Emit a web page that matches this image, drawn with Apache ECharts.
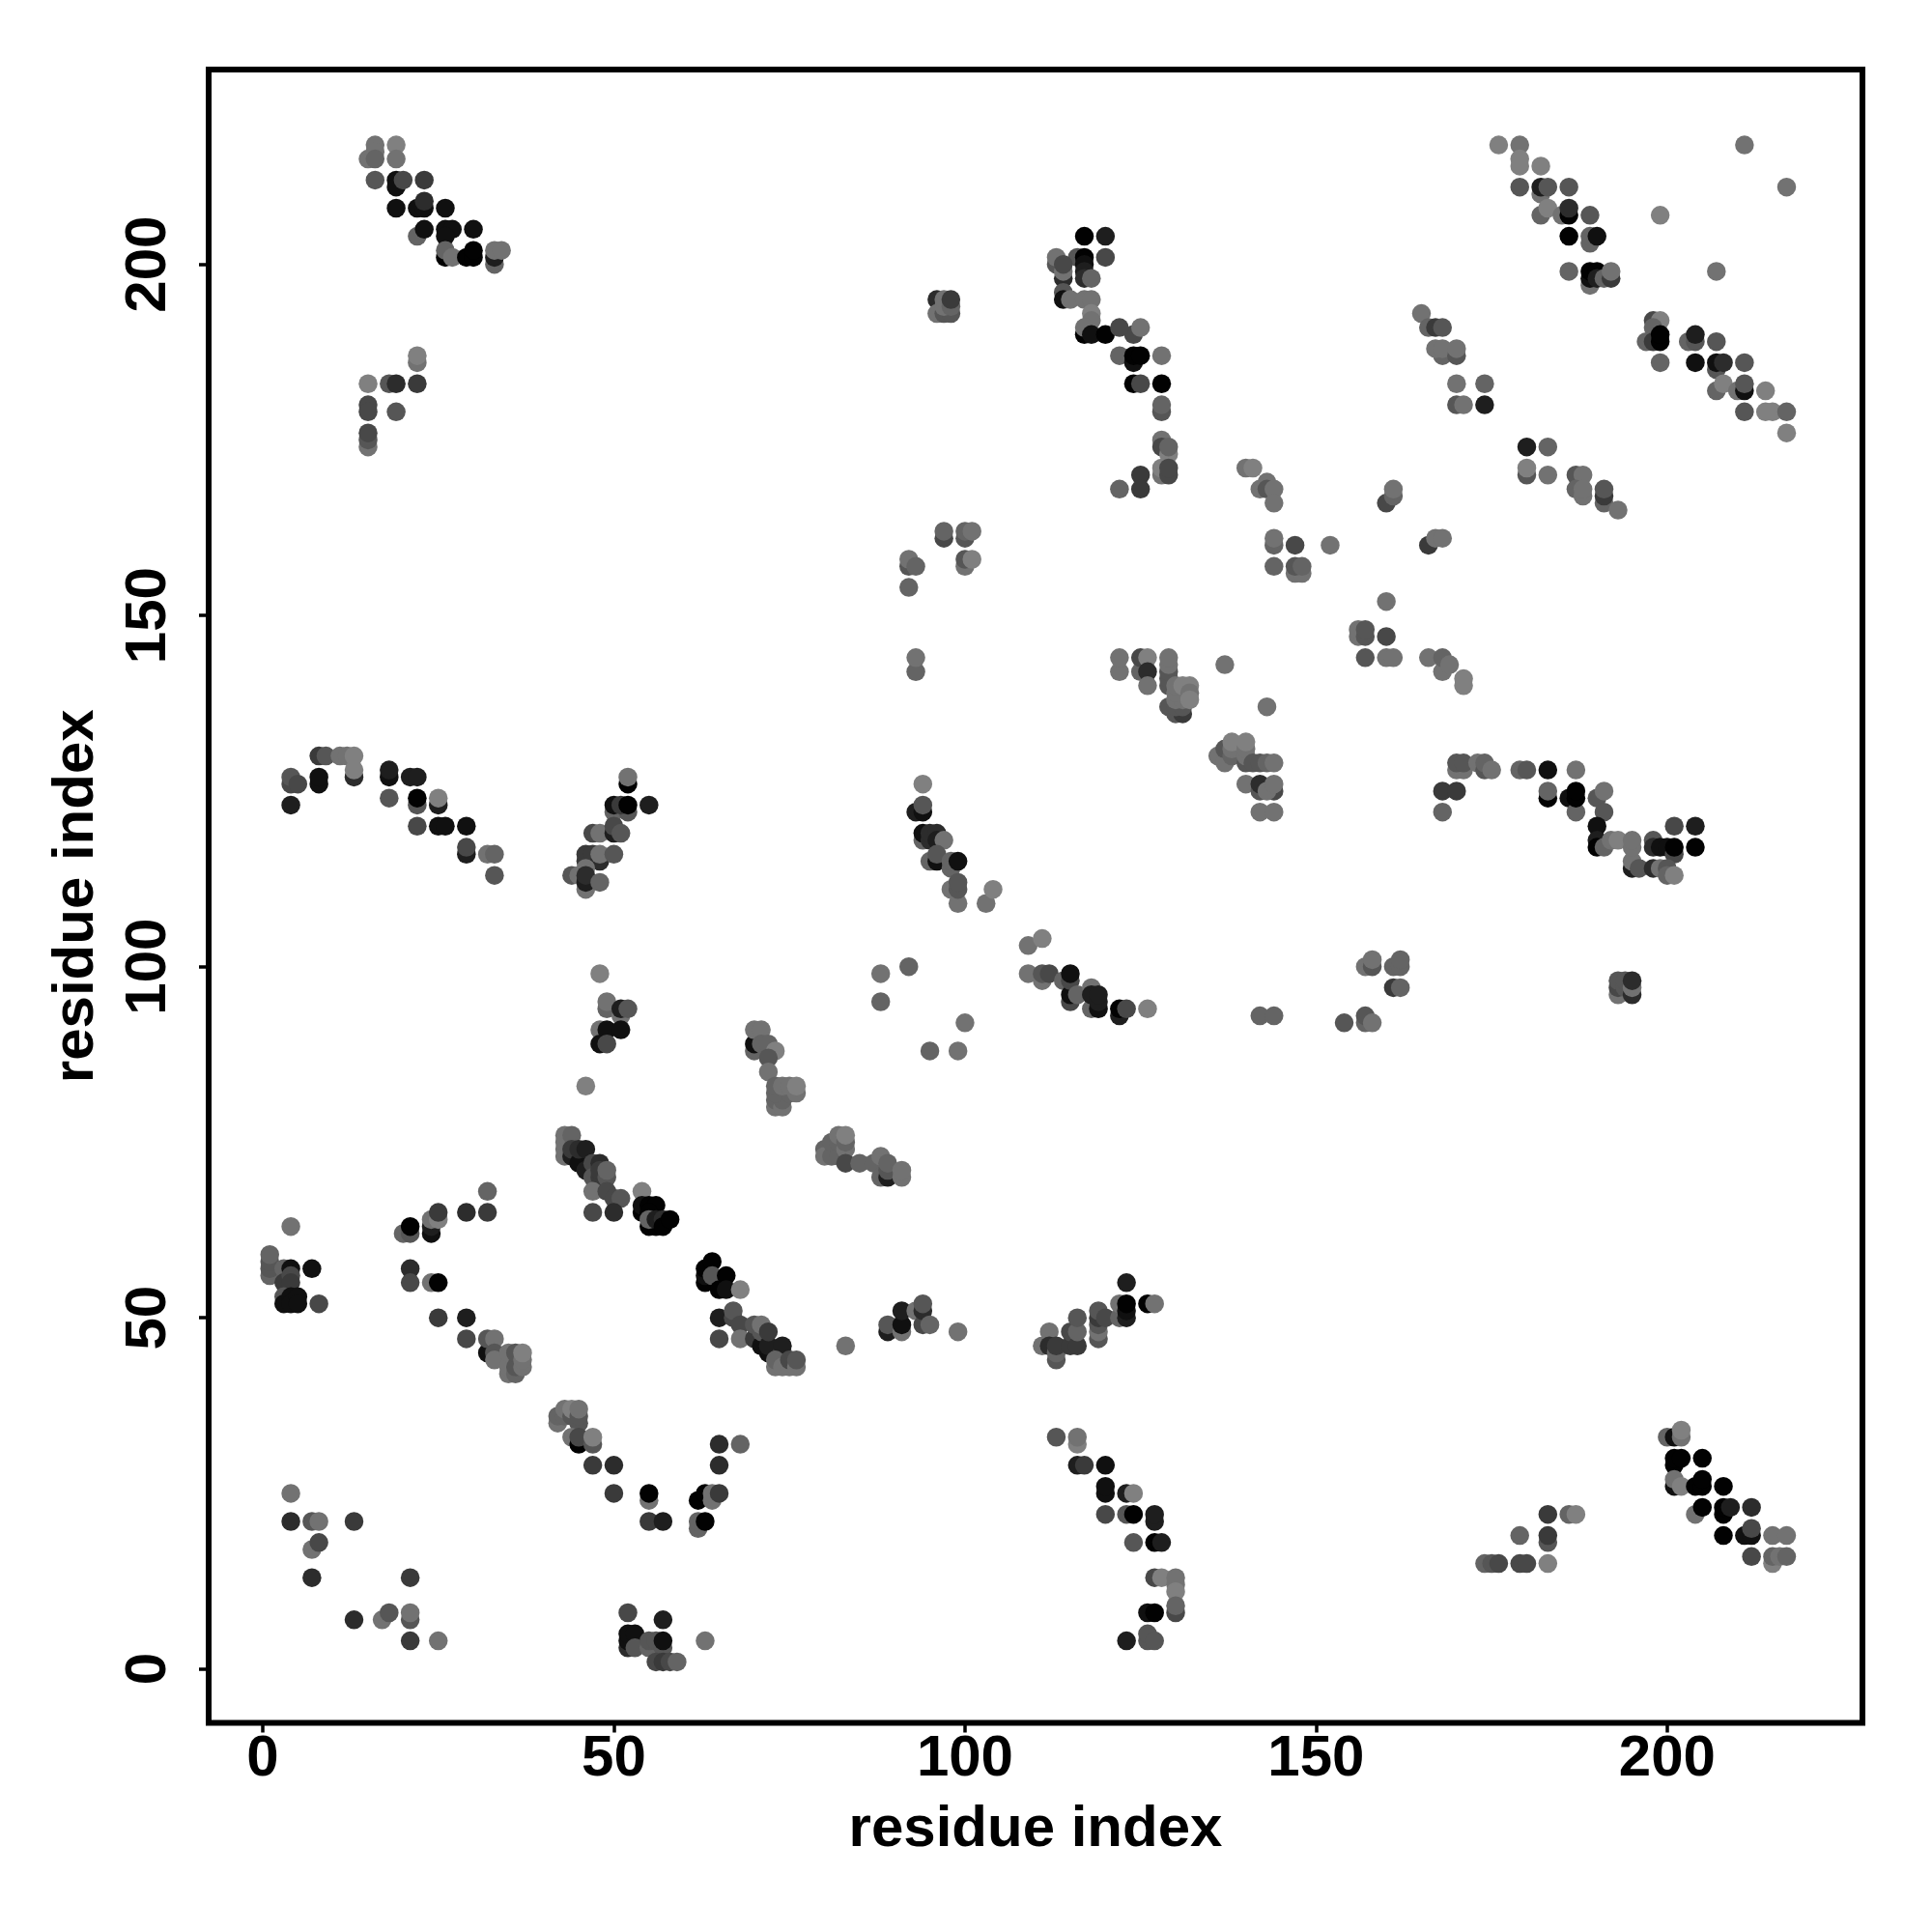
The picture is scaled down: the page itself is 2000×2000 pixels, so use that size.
<!DOCTYPE html>
<html><head><meta charset="utf-8">
<style>html,body{margin:0;padding:0;background:#fff}#c{width:2000px;height:2000px}</style>
<script src="https://cdn.jsdelivr.net/npm/echarts@6/dist/echarts.min.js"></script>
</head><body><div id="c"></div>
<script>
// each point: [residue i, residue j, contact score 0-9]
const topLeft=[[16,217,1],[19,217,0],[15,215,1],[16,216,1],[16,215,2],[19,215,1],[16,212,3],[19,212,8],[19,211,8],[20,212,4],[23,212,5],[19,208,8],[22,208,8],[23,208,8],[23,209,6],[26,208,8],[22,204,2],[23,205,8],[26,205,8],[27,205,8],[26,204,8],[30,205,8],[26,201,9],[26,202,2],[27,201,1],[29,201,9],[30,201,9],[30,202,9],[33,200,2],[33,201,7],[33,202,1],[34,202,1],[22,186,1],[22,187,0],[15,183,0],[18,183,3],[19,183,6],[22,183,5],[15,180,4],[15,179,4],[19,179,3],[15,174,1],[15,175,3],[15,176,4]];
const upperMiddle=[[117,204,9],[120,204,7],[120,201,4],[116,201,3],[117,201,9],[113,200,3],[113,201,1],[114,198,6],[114,199,1],[114,200,4],[117,200,8],[117,199,7],[117,198,6],[118,198,2],[114,196,3],[114,195,8],[115,195,1],[117,195,1],[118,195,1],[118,193,0],[118,192,1],[117,190,9],[117,191,1],[118,190,8],[120,190,9],[124,190,4],[122,191,4],[125,191,1],[122,187,2],[124,186,8],[124,187,9],[125,187,9],[128,187,1],[124,183,9],[125,183,4],[128,183,9],[128,179,3],[128,180,2],[128,175,1],[128,174,4],[129,173,0],[129,174,2],[128,170,1],[128,171,0],[129,170,4],[129,171,4],[125,170,5],[125,168,5],[122,168,2],[96,195,6],[96,193,1],[97,193,3],[98,193,3],[97,194,1],[97,195,1],[98,194,2],[98,195,5]];
const upperCentre=[[140,171,1],[141,171,0],[142,168,1],[143,169,1],[143,168,3],[144,168,1],[144,166,1],[144,160,2],[144,161,1],[147,160,4],[152,160,1],[144,157,2],[147,156,1],[148,156,1],[147,157,3],[148,157,2],[97,161,4],[97,162,2],[100,161,3],[100,162,2],[101,162,1],[92,157,3],[92,158,1],[93,157,2],[92,154,2],[100,157,1],[100,158,3],[101,158,0],[93,142,2],[93,144,1],[122,142,1],[122,144,1],[125,142,2],[125,144,4],[126,144,0],[126,142,6],[126,140,1],[129,140,3],[129,141,3],[129,142,3],[129,143,1],[129,144,1],[137,143,1],[129,137,3],[130,136,3],[131,136,5],[130,137,3],[131,137,3],[130,138,1],[131,138,1],[130,139,1],[130,140,1],[131,140,0],[132,140,0],[132,139,1],[132,138,0],[143,137,1]];
const rightMiddle=[[160,152,1],[156,147,1],[156,148,1],[157,147,3],[157,148,3],[160,147,4],[157,144,3],[160,144,1],[161,144,1],[166,144,1],[168,142,1],[168,144,2],[169,143,1],[171,140,0],[171,141,0],[136,130,1],[137,129,1],[137,131,3],[138,130,2],[138,131,1],[138,132,0],[140,129,3],[140,130,1],[140,131,1],[140,132,0],[141,129,3],[142,129,3],[143,129,2],[144,129,1],[140,126,1],[142,125,3],[142,126,6],[144,125,4],[143,125,1],[144,126,1],[142,122,1],[144,122,1],[170,128,1],[171,128,1],[170,129,3],[171,129,3],[173,129,1],[174,128,3],[174,129,2],[175,128,1],[179,128,2],[180,128,3],[183,128,8],[187,128,1],[168,125,5],[170,125,5],[168,122,2],[183,124,9],[183,125,2],[186,124,8],[187,122,2],[187,124,9],[187,125,9],[190,124,3],[191,125,1],[191,122,3],[190,120,8],[190,118,7],[190,117,9],[191,117,2],[192,118,1],[193,118,0],[195,114,7],[195,115,1],[195,117,1],[195,118,1],[196,114,3],[198,118,3],[198,117,6],[199,117,8],[200,117,8],[201,116,4],[201,117,9],[204,117,9],[201,120,4],[204,120,7],[198,114,6],[199,114,1],[200,114,3],[200,113,2],[201,113,0]];
const rightLower=[[157,100,1],[158,100,3],[158,101,1],[161,100,2],[162,100,2],[162,101,2],[161,97,5],[162,97,2],[193,96,1],[193,97,4],[193,98,3],[194,97,3],[194,98,3],[195,96,6],[195,97,1],[195,98,6],[142,93,2],[144,93,2],[154,92,3],[157,92,2],[157,93,3],[158,92,1]];
const topRight=[[176,217,0],[179,217,1],[211,217,1],[179,214,0],[179,215,0],[182,214,0],[217,211,1],[179,211,3],[182,210,1],[182,211,7],[183,211,3],[186,211,3],[182,207,2],[183,208,0],[185,207,1],[186,207,9],[186,208,6],[189,207,3],[199,207,0],[186,204,9],[189,203,2],[189,204,2],[190,204,8],[207,199,1],[186,199,2],[189,197,1],[189,198,8],[189,199,9],[190,199,9],[190,198,7],[191,198,2],[192,198,5],[192,199,1],[165,193,1],[166,191,2],[167,191,5],[168,191,3],[168,187,2],[167,188,1],[168,188,1],[170,187,3],[170,188,1],[170,183,1],[174,183,2],[170,180,3],[171,180,1],[174,180,7],[180,174,7],[183,174,2],[180,170,3],[180,171,0],[183,170,1],[187,170,3],[188,170,1],[187,168,2],[188,167,1],[188,168,1],[191,166,2],[191,167,5],[191,168,3],[193,165,1],[160,166,4],[161,167,2],[161,168,1],[166,160,5],[167,161,1],[168,161,1],[198,192,4],[199,192,0],[198,191,2],[197,189,2],[198,189,5],[199,189,9],[199,190,9],[199,186,2],[203,189,2],[204,189,3],[204,190,7],[207,189,3],[204,186,8],[207,185,3],[207,186,8],[208,186,6],[211,186,3],[207,182,2],[208,183,0],[210,182,1],[211,182,8],[211,183,3],[214,182,0],[211,179,3],[214,179,0],[215,179,0],[217,179,2],[217,176,0]];
const centreDiagonal=[[94,126,0],[93,122,7],[94,122,8],[94,123,3],[94,118,2],[94,119,8],[95,118,6],[95,119,6],[96,119,6],[96,118,7],[97,118,1],[95,115,2],[96,115,8],[96,116,3],[98,114,2],[98,115,2],[99,115,8],[98,111,1],[99,109,1],[99,111,3],[99,112,3],[103,109,1],[104,111,0],[109,103,1],[111,104,0],[109,99,1],[111,98,1],[111,99,3],[112,99,4],[114,98,2],[115,95,4],[115,96,8],[115,98,4],[115,99,8],[116,96,2],[118,94,2],[118,97,1],[118,96,7],[119,94,8],[119,95,7],[119,96,7],[122,93,7],[122,94,9],[123,94,4],[126,94,0],[88,99,1],[92,100,2],[88,95,2],[100,92,1],[95,88,2],[99,88,1]];
const leftMiddle=[[8,130,5],[9,130,3],[11,130,1],[12,130,1],[13,127,6],[13,128,0],[13,130,0],[4,126,4],[4,127,3],[5,126,4],[4,123,7],[8,126,8],[8,127,8],[18,127,8],[18,128,7],[21,127,7],[22,127,7],[18,124,3],[22,123,3],[22,124,9],[25,123,7],[25,124,0],[22,120,4],[25,120,8],[26,120,8],[29,120,8],[29,116,7],[29,117,4],[32,116,1],[33,116,2],[33,113,3],[52,126,9],[52,127,1],[50,122,2],[52,122,3],[50,123,8],[51,123,5],[52,123,9],[55,123,7],[47,119,4],[48,119,1],[50,119,7],[50,120,4],[51,119,3],[46,115,5],[46,116,5],[47,116,5],[48,115,6],[48,116,1],[50,116,3],[46,114,1],[44,113,3],[45,113,1],[46,111,1],[46,112,7],[46,113,6],[48,112,2]];
const leftCentre=[[48,99,0],[49,94,2],[49,95,1],[51,93,1],[51,94,7],[52,94,3],[48,91,1],[49,91,8],[51,91,8],[48,89,8],[49,89,4],[46,83,0],[70,88,2],[70,89,8],[70,91,1],[71,91,1],[71,89,2],[72,89,2],[73,88,0],[72,87,3],[72,85,1],[73,80,1],[73,81,2],[74,80,1],[74,81,2],[73,82,2],[73,83,2],[75,82,2],[76,82,1],[74,83,1],[75,83,1],[76,83,0],[80,74,2],[80,73,1],[81,73,2],[81,75,2],[82,73,2],[82,75,2],[82,76,1],[83,74,1],[83,75,2],[83,76,0],[83,72,4],[85,72,2],[87,72,2],[88,70,2],[88,73,1],[89,70,7],[89,71,3],[89,72,2],[91,70,1],[91,71,1]];
const diagonalBand=[[43,73,1],[43,74,1],[43,75,1],[43,76,1],[44,76,2],[44,73,7],[44,74,5],[45,72,8],[45,74,6],[46,74,7],[46,71,7],[47,72,4],[48,72,6],[47,70,3],[48,70,5],[48,71,5],[49,70,3],[49,71,2],[47,68,1],[49,68,4],[50,67,4],[51,67,3],[47,65,4],[50,65,6],[54,68,0],[54,65,9],[54,66,8],[55,66,9],[56,66,9],[55,65,9],[55,63,9],[56,63,9],[55,64,2],[56,64,7],[57,64,6],[57,63,9],[58,64,9]];
const leftBand=[[4,63,1],[1,56,2],[1,57,3],[1,58,3],[1,59,2],[3,57,2],[4,57,8],[7,57,8],[3,55,5],[4,56,4],[4,55,5],[3,53,3],[3,52,8],[4,53,8],[4,52,8],[5,53,8],[5,52,8],[8,52,4],[20,62,2],[21,62,3],[21,63,9],[24,62,8],[24,63,7],[24,64,1],[25,64,0],[25,65,5],[29,65,6],[32,65,5],[32,68,2],[21,57,6],[21,55,4],[24,55,1],[25,55,9],[25,50,5],[29,50,7],[29,47,4],[32,45,8],[32,47,3],[33,47,1],[33,45,3],[33,44,1],[35,42,1],[35,43,1],[35,45,1],[36,42,2],[36,43,3],[36,45,3],[37,43,1],[37,44,1],[37,45,0]];
const lowerLeft=[[42,35,1],[42,36,2],[43,36,2],[43,37,1],[44,36,3],[44,37,0],[45,35,3],[45,36,3],[45,37,1],[44,33,1],[45,32,9],[45,33,4],[47,32,3],[47,33,0],[47,29,5],[50,29,6],[50,25,5],[55,24,1],[55,25,9],[55,21,5],[57,21,7],[65,32,6],[68,32,2],[65,29,6],[62,24,9],[63,25,9],[64,24,1],[64,25,1],[65,25,5],[62,20,2],[62,21,2],[63,21,9],[4,25,1],[4,21,6],[7,21,3],[8,21,1],[13,21,5],[7,17,1],[8,18,4],[7,13,6],[21,13,5],[13,7,6],[17,7,1],[18,8,3],[21,7,3],[21,8,1],[21,4,5],[25,4,1],[52,8,4],[57,7,7],[52,3,6],[52,4,8],[52,5,8],[53,5,8],[53,3,3],[55,3,2],[55,4,3],[56,4,3],[57,3,3],[57,4,8],[56,1,4],[57,1,5],[58,1,4],[59,1,2],[63,4,1]];
const lowerCentre=[[63,55,9],[63,56,8],[63,57,9],[64,58,9],[64,56,3],[66,56,9],[65,54,9],[66,54,8],[68,54,0],[65,50,7],[67,50,4],[67,51,3],[68,49,4],[65,47,4],[68,47,1],[70,47,5],[70,49,3],[71,46,8],[71,48,3],[71,49,1],[72,45,8],[72,46,7],[72,48,5],[74,45,3],[74,46,7],[73,43,1],[73,44,2],[74,43,1],[75,43,1],[75,44,4],[76,43,1],[76,44,3],[83,46,1],[99,48,1],[89,48,7],[89,49,3],[91,48,1],[91,49,8],[91,51,7],[93,51,1],[94,49,4],[94,51,6],[94,52,3],[95,49,2],[111,46,1],[112,48,1],[112,46,6],[113,44,3],[113,45,2],[113,46,5],[115,46,5],[115,48,4],[116,46,5],[116,48,2],[116,50,3],[119,47,3],[119,48,1],[119,49,3],[119,50,5],[119,51,3],[120,50,4],[122,50,2],[122,52,1],[123,50,7],[123,51,8],[123,52,9],[123,55,7],[126,52,9],[127,52,1]];
const lowerRight=[[113,33,3],[116,32,0],[116,33,1],[116,29,7],[117,29,5],[120,29,8],[120,25,8],[120,26,8],[123,25,7],[124,25,0],[120,22,4],[123,22,3],[124,22,9],[127,21,7],[127,22,7],[124,18,3],[127,18,9],[128,18,7],[127,13,4],[128,13,0],[130,12,1],[130,13,1],[130,11,0],[130,8,4],[130,9,2],[126,8,8],[127,8,9],[123,4,7],[126,4,3],[126,5,3],[127,4,3],[174,15,2],[175,15,3],[176,15,4],[179,15,4],[180,15,4],[183,15,0],[179,19,2],[183,18,3],[183,19,5],[183,22,5],[186,22,2],[187,22,0],[200,33,2],[201,33,8],[202,33,1],[202,34,0],[201,29,9],[201,30,9],[202,30,9],[205,30,9],[201,26,8],[201,27,1],[202,26,0],[204,26,9],[205,26,9],[205,27,9],[208,26,9],[204,22,1],[205,23,9],[208,22,9],[208,23,9],[209,23,7],[212,23,6],[208,19,9],[211,19,8],[212,19,8],[212,20,4],[215,19,1],[217,19,1],[212,16,4],[215,15,0],[215,16,2],[216,16,1],[217,16,2]];
const tickValues=[0,50,100,150,200];
const axisTitle='residue index';

const points=[].concat(topLeft,upperMiddle,upperCentre,rightMiddle,rightLower,topRight,centreDiagonal,leftMiddle,leftCentre,diagonalBand,leftBand,lowerLeft,lowerCentre,lowerRight);
function shade(s){const g=128-s*14;return 'rgb('+g+','+g+','+g+')';}
const font='Liberation Sans';
function axis(min,max,rotate,labelMargin,nameGap,nameRotate){
  return {type:'value',min:min,max:max,name:axisTitle,nameLocation:'middle',nameGap:nameGap,nameRotate:nameRotate,
    nameTextStyle:{fontFamily:font,fontWeight:'bold',fontSize:60,color:'#000'},
    axisLine:{show:false,onZero:false},splitLine:{show:false},
    axisTick:{show:true,length:10,inside:false,customValues:tickValues,lineStyle:{color:'#000',width:3.5}},
    axisLabel:{show:true,customValues:tickValues,rotate:rotate,margin:labelMargin,fontFamily:font,fontWeight:'bold',fontSize:60,color:'#000'}};
}
const chart=echarts.init(document.getElementById('c'),null,{renderer:'canvas'});
chart.setOption({animation:false,backgroundColor:'#fff',
  grid:{left:216,top:72,width:1712,height:1711.5,show:true,borderColor:'#000',borderWidth:6,backgroundColor:'#fff',containLabel:false},
  xAxis:axis(-7.7,227.8,0,8,81,0),
  yAxis:axis(-7.68,227.74,90,32,107,90),
  series:[{type:'scatter',symbol:'circle',symbolSize:19.5,data:points,encode:{x:0,y:1},
    itemStyle:{opacity:1,color:function(p){return shade(p.data[2]);}}}]});
</script></body></html>
